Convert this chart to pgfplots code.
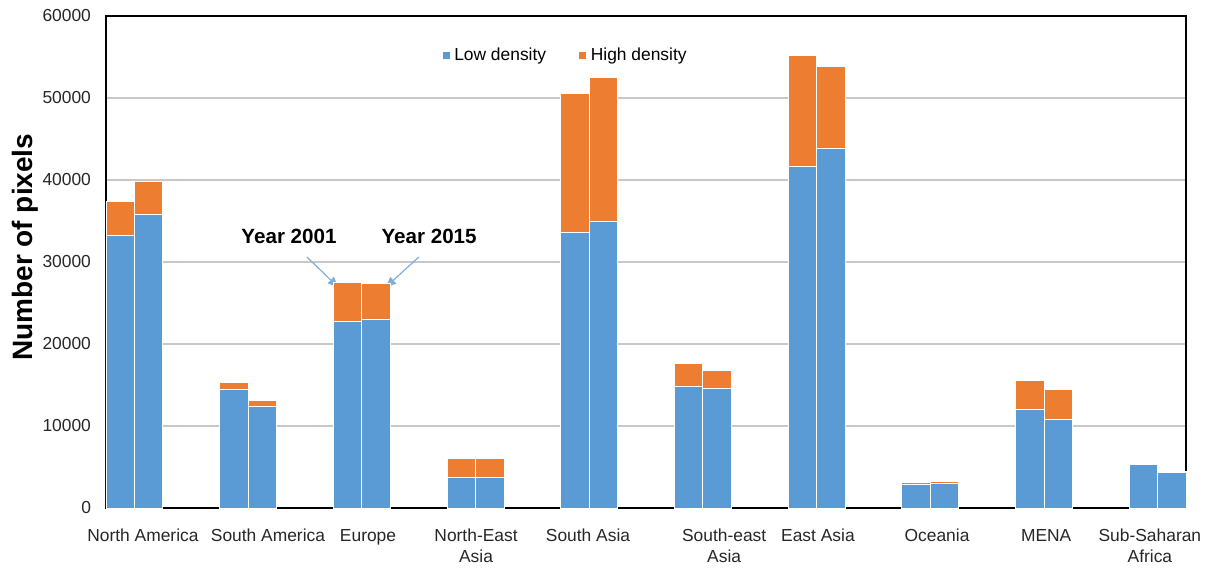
\documentclass[border=0pt]{standalone}
\usepackage{pgfplots}
\pgfplotsset{compat=1.18}
\usepackage{fontspec}
\setmainfont{Liberation Sans}
\usetikzlibrary{calc,arrows.meta}
\definecolor{lowblue}{HTML}{5B9BD5}
\definecolor{highorange}{HTML}{ED7D31}
\definecolor{gridgray}{HTML}{C8C8C8}
\definecolor{arrowblue}{HTML}{7FAEDC}

\pgfplotstableread{
x low high
0.5 33200 4200
1.5 35800 4000
4.5 14450 900
5.5 12350 800
8.5 22750 4750
9.5 23000 4350
12.5 3700 2300
13.5 3750 2250
16.5 33650 16900
17.5 34900 17650
20.5 14850 2800
21.5 14650 2100
24.5 41700 13450
25.5 43850 10050
28.5 2900 200
29.5 3000 200
32.5 12000 3600
33.5 10750 3750
36.5 5300 150
37.5 4300 150
}\datatable

\begin{document}
\begin{tikzpicture}
\begin{axis}[
  name=ax,
  width=540pt, height=246pt, scale only axis,
  xmin=0, xmax=38, ymin=0, ymax=60000,
  ybar stacked, bar width=1,
  axis line style={black, line width=0.8pt},
  ytick={0,10000,...,60000},
  ymajorgrids, grid style={gridgray, line width=0.8pt},
  major tick length=0pt,
  scaled y ticks=false,
  /pgf/number format/1000 sep={},
  /pgf/number format/assume math mode=true,
  tick label style={font=\fontsize{8.7}{10.2}\selectfont, text=black!85},
  yticklabel style={xshift=-4pt},
  xtick={1.30,5.70,9.22,13.02,16.96,21.75,25.05,29.24,33.08,36.73},
  xticklabels={North America,South America,Europe,{North-East\\Asia},South Asia,{South-east\\Asia},East Asia,Oceania,MENA,{Sub-Saharan\\Africa}},
  xticklabel style={align=center, anchor=north, yshift=-7pt},
  ylabel={Number of pixels},
  every axis y label/.style={at={(axis description cs:-0.075,0.53)}, rotate=90, anchor=center,
    font=\bfseries\fontsize{14}{16}\selectfont},
  legend style={draw=none, fill=none, at={(axis description cs:0.426,0.92)}, anchor=center,
    legend columns=2, font=\fontsize{8.7}{10.2}\selectfont,
    /tikz/every even column/.append style={column sep=14pt}},
  legend image code/.code={\fill[#1] (0pt,-2pt) rectangle (4pt,2pt);},
  clip=false,
]
\addplot[fill=lowblue, draw=white, line width=0.35pt] table[x=x,y=low]{\datatable};
\addlegendentry{Low density}
\addplot[fill=highorange, draw=white, line width=0.35pt] table[x=x,y=high]{\datatable};
\addlegendentry{High density}
\node[font=\bfseries\fontsize{10.3}{12}\selectfont] at (axis cs:6.44,33170) {Year 2001};
\node[font=\bfseries\fontsize{10.3}{12}\selectfont] at (axis cs:11.37,33170) {Year 2015};
\draw[arrowblue, line width=0.6pt, -{Triangle[length=5pt,width=4.5pt]}] (axis cs:7.07,30610) -- (axis cs:8.16,26950);
\draw[arrowblue, line width=0.6pt, -{Triangle[length=5pt,width=4.5pt]}] (axis cs:11.01,30610) -- (axis cs:9.85,26950);
\end{axis}
\pgfresetboundingbox
\path[use as bounding box] ($(ax.south west)+(-53pt,-30.5pt)$) rectangle ($(ax.north east)+(10pt,8pt)$);
\end{tikzpicture}
\end{document}
